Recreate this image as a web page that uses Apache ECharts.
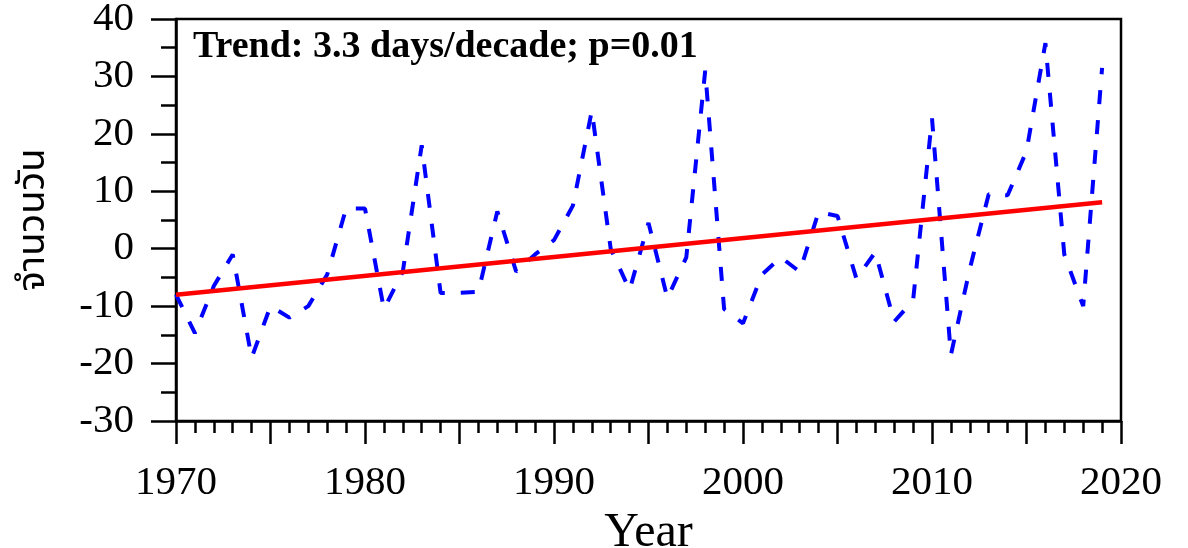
<!DOCTYPE html>
<html>
<head>
<meta charset="utf-8">
<script src="https://cdn.jsdelivr.net/npm/echarts@6/dist/echarts.min.js"></script>
<style>
html,body{margin:0;padding:0;background:#fff;}
#chart{width:1188px;height:548px;}
</style>
</head>
<body>
<div id="chart"></div>
<script>
const years = [1970,1971,1972,1973,1974,1975,1976,1977,1978,1979,
               1980,1981,1982,1983,1984,1985,1986,1987,1988,1989,
               1990,1991,1992,1993,1994,1995,1996,1997,1998,1999,
               2000,2001,2002,2003,2004,2005,2006,2007,2008,2009,
               2010,2011,2012,2013,2014,2015,2016,2017,2018,2019];
const anomalies = [-8,-14.7,-6.5,-1,-19,-10,-12,-10,-4.5,7,
                   7,-10.5,-4,18,-7.7,-7.7,-7.5,6.5,-4,-1,
                   1.5,7.5,24,0,-7.2,4.5,-8.6,-1.5,31,-10.5,
                   -13,-4.5,-1.5,-4,6.4,5.7,-5.2,-0.6,-12.7,-9,
                   22.7,-18.5,-3.5,9.5,9.3,17,35.8,-1,-10,31.5];
const trendYears = [1970, 2019];
const trendValues = [-8, 8.1];
const xTickLabels = [1970,1980,1990,2000,2010,2020];
const yTickLabels = [-30,-20,-10,0,10,20,30,40];
const yAxisTitle = 'จำนวนวัน';
const xAxisTitle = 'Year';
const annotation = 'Trend: 3.3 days/decade; p=0.01';

const chart = echarts.init(document.getElementById('chart'), null, {renderer:'canvas'});
const serif = '"Liberation Serif","Times New Roman",serif';
chart.setOption({
  animation:false,
  backgroundColor:'#fff',
  grid:{left:176,right:67,top:19,bottom:127,outerBoundsMode:'none',containLabel:false,
        show:true,borderColor:'#000',borderWidth:2.5,backgroundColor:'transparent'},
  xAxis:{
    type:'value',min:1970,max:2020,interval:5,
    name:xAxisTitle,nameLocation:'middle',nameGap:80,
    nameTextStyle:{fontFamily:serif,fontSize:48,color:'#000'},
    axisLine:{show:true,onZero:false,lineStyle:{color:'#000',width:2.5}},
    axisTick:{show:true,inside:false,length:23,lineStyle:{color:'#000',width:2.5}},
    minorTick:{show:true,splitNumber:5,length:12,lineStyle:{color:'#000',width:2.5}},
    splitLine:{show:false},
    axisLabel:{margin:42,fontFamily:serif,fontSize:41,color:'#000',
      formatter:function(v){return xTickLabels.indexOf(v)>=0?String(v):'';}}
  },
  yAxis:{
    type:'value',min:-30,max:40,interval:10,
    name:yAxisTitle,nameLocation:'middle',nameGap:121,nameRotate:90,
    nameTextStyle:{fontFamily:'"Noto Sans Thai","Noto Sans","DejaVu Sans",sans-serif',fontSize:38,color:'#000'},
    axisLine:{show:true,onZero:false,lineStyle:{color:'#000',width:2.5}},
    axisTick:{show:true,inside:false,length:25,lineStyle:{color:'#000',width:2.5}},
    minorTick:{show:true,splitNumber:2,length:15,lineStyle:{color:'#000',width:2.5}},
    splitLine:{show:false},
    axisLabel:{margin:42,fontFamily:serif,fontSize:41,color:'#000',
      formatter:function(v){return yTickLabels.indexOf(v)>=0?String(v):'';}}
  },
  graphic:[{
    type:'text',left:193,top:28,
    style:{text:annotation,font:'bold 38px "Liberation Serif","Times New Roman",serif',fill:'#000'}
  }],
  series:[
    {type:'line',data:years.map((y,i)=>[y,anomalies[i]]),symbol:'none',
     lineStyle:{color:'#0000ff',width:4,type:[14,16]},z:2},
    {type:'line',data:trendYears.map((y,i)=>[y,trendValues[i]]),symbol:'none',
     lineStyle:{color:'#ff0000',width:4.5},z:3}
  ]
});
</script>
</body>
</html>
